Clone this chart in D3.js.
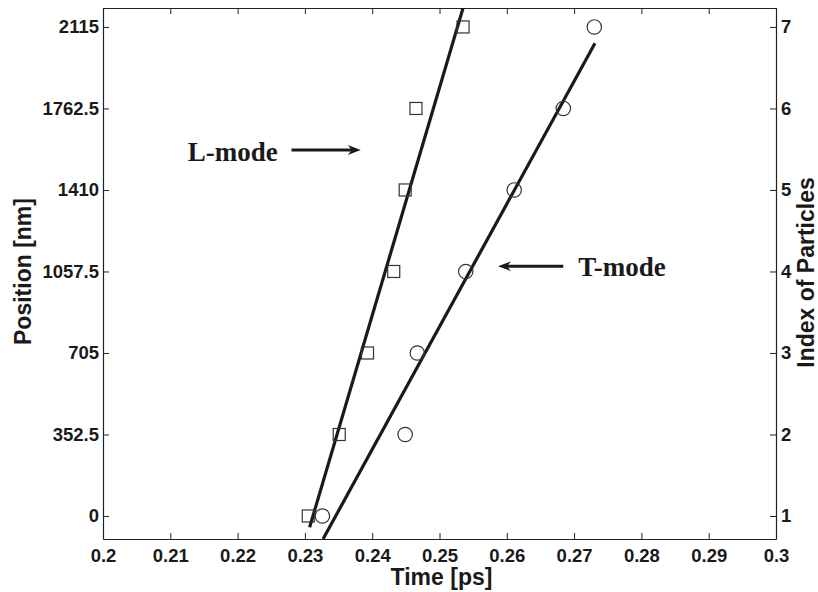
<!DOCTYPE html>
<html>
<head>
<meta charset="utf-8">
<script src="https://cdn.jsdelivr.net/npm/d3@7"></script>
<style>
  body { margin: 0; background: #fff; }
</style>
</head>
<body>
<div id="chart"></div>
<script>
// data
var timeTicks = [0.2, 0.21, 0.22, 0.23, 0.24, 0.25, 0.26, 0.27, 0.28, 0.29, 0.3];
var positionTicks = [0, 352.5, 705, 1057.5, 1410, 1762.5, 2115];
var particleIndex = [1, 2, 3, 4, 5, 6, 7];
var lModeTime = [0.2305, 0.2351, 0.2393, 0.2432, 0.2449, 0.2465, 0.2535];
var tModeTime = [0.2326, 0.2449, 0.2467, 0.2539, 0.2611, 0.2684, 0.2730];
var lFitTime = [0.2307, 0.2535];
var lFitPos = [-49, 2197];
var tFitTime = [0.2327, 0.2731];
var tFitPos = [-99.5, 2045];
var annLabels = ["L-mode", "T-mode"];
var annTextTime = [0.2126, 0.2706];
var annTextPos = [1537, 1039];
var annArrowFrom = [0.2280, 0.2684];
var annArrowTo = [0.2383, 0.2587];
var annArrowPos = [1583, 1080];

var W = 818, H = 592;
var margin = {top: 8, right: 42, bottom: 53, left: 103};
var width = W - margin.left - margin.right,
    height = H - margin.top - margin.bottom;
var sans = "Liberation Sans, Arial, sans-serif";
var serif = "Liberation Serif, Times New Roman, serif";

var svg = d3.select("#chart").append("svg")
    .attr("width", W).attr("height", H)
    .append("g")
    .attr("transform", "translate(" + margin.left + "," + margin.top + ")");

var x = d3.scaleLinear().domain([0.2, 0.3]).range([0, width]);
var y = d3.scaleLinear().domain([-99.5, 2197]).range([height, 0]);
var y2 = d3.scaleLinear()
    .domain([1 + y.domain()[0] / 352.5, 1 + y.domain()[1] / 352.5])
    .range([height, 0]);

svg.append("defs").append("clipPath").attr("id", "clip")
  .append("rect").attr("width", width).attr("height", height);

function styleAxis(g) {
  g.attr("font-family", sans).attr("font-size", 18.5).attr("font-weight", "bold");
  g.selectAll("path.domain").attr("stroke", "#222").attr("stroke-width", 1.2);
  g.selectAll(".tick line").attr("stroke", "#222").attr("stroke-width", 1);
  g.selectAll(".tick text").attr("fill", "#1a1a1a").attr("font-weight", "bold");
}

// bottom axis, ticks inward
svg.append("g")
    .attr("transform", "translate(0," + height + ")")
    .call(d3.axisBottom(x).tickValues(timeTicks).tickSize(-6).tickSizeOuter(0)
      .tickPadding(10).tickFormat(d3.format("")))
    .call(styleAxis);

// top axis, ticks only
svg.append("g")
    .call(d3.axisTop(x).tickValues(timeTicks).tickSize(-6).tickSizeOuter(0).tickFormat(""))
    .call(styleAxis);

// left axis
svg.append("g")
    .call(d3.axisLeft(y).tickValues(positionTicks).tickSize(-6).tickSizeOuter(0)
      .tickPadding(4).tickFormat(function(d) { return d; }))
    .call(styleAxis);

// right axis
svg.append("g")
    .attr("transform", "translate(" + width + ",0)")
    .call(d3.axisRight(y2).tickValues(particleIndex).tickSize(-6).tickSizeOuter(0)
      .tickPadding(5).tickFormat(d3.format("d")))
    .call(styleAxis);

// fit lines
var plot = svg.append("g").attr("clip-path", "url(#clip)");
var line = d3.line().x(function(d) { return x(d[0]); }).y(function(d) { return y(d[1]); });
plot.append("path").datum(d3.zip(lFitTime, lFitPos))
    .attr("d", line).attr("fill", "none").attr("stroke", "#1a1a1a").attr("stroke-width", 3.2);
plot.append("path").datum(d3.zip(tFitTime, tFitPos))
    .attr("d", line).attr("fill", "none").attr("stroke", "#1a1a1a").attr("stroke-width", 3.2);

// L-mode squares
svg.selectAll("rect.lmode").data(lModeTime).enter().append("rect")
    .attr("class", "lmode")
    .attr("x", function(d) { return x(d) - 6; })
    .attr("y", function(d, i) { return y(positionTicks[i]) - 6; })
    .attr("width", 12).attr("height", 12)
    .attr("fill", "none").attr("stroke", "#333").attr("stroke-width", 1.2);

// T-mode circles
svg.selectAll("circle.tmode").data(tModeTime).enter().append("circle")
    .attr("class", "tmode")
    .attr("cx", function(d) { return x(d); })
    .attr("cy", function(d, i) { return y(positionTicks[i]); })
    .attr("r", 7.2)
    .attr("fill", "none").attr("stroke", "#333").attr("stroke-width", 1.2);

// annotations
annLabels.forEach(function(lab, i) {
  svg.append("text")
    .attr("x", x(annTextTime[i])).attr("y", y(annTextPos[i]))
    .attr("font-family", serif).attr("font-weight", "bold").attr("font-size", 27)
    .attr("fill", "#1a1a1a")
    .text(lab);
  var x0 = x(annArrowFrom[i]), x1 = x(annArrowTo[i]), yy = y(annArrowPos[i]);
  var dir = x1 > x0 ? 1 : -1;
  svg.append("line")
    .attr("x1", x0).attr("y1", yy).attr("x2", x1 - dir * 6).attr("y2", yy)
    .attr("stroke", "#1a1a1a").attr("stroke-width", 3);
  svg.append("path")
    .attr("d", "M" + x1 + "," + yy +
               " L" + (x1 - dir * 13) + "," + (yy - 5) +
               " L" + (x1 - dir * 9) + "," + yy +
               " L" + (x1 - dir * 13) + "," + (yy + 5) + " Z")
    .attr("fill", "#1a1a1a");
});

// axis titles
function axTitle(sel) {
  sel.attr("text-anchor", "middle")
    .attr("font-family", sans).attr("font-weight", "bold").attr("font-size", 23)
    .attr("fill", "#1a1a1a");
}
svg.append("text").call(axTitle)
    .attr("transform", "translate(" + (-72) + "," + (height / 2 - 2) + ") rotate(-90)")
    .text("Position [nm]");
svg.append("text").call(axTitle)
    .attr("transform", "translate(" + (width + 38) + "," + (height / 2 - 1) + ") rotate(-90)")
    .text("Index of Particles");
svg.append("text").call(axTitle)
    .attr("x", x(0.2503)).attr("y", height + 46)
    .text("Time [ps]");
</script>
</body>
</html>
